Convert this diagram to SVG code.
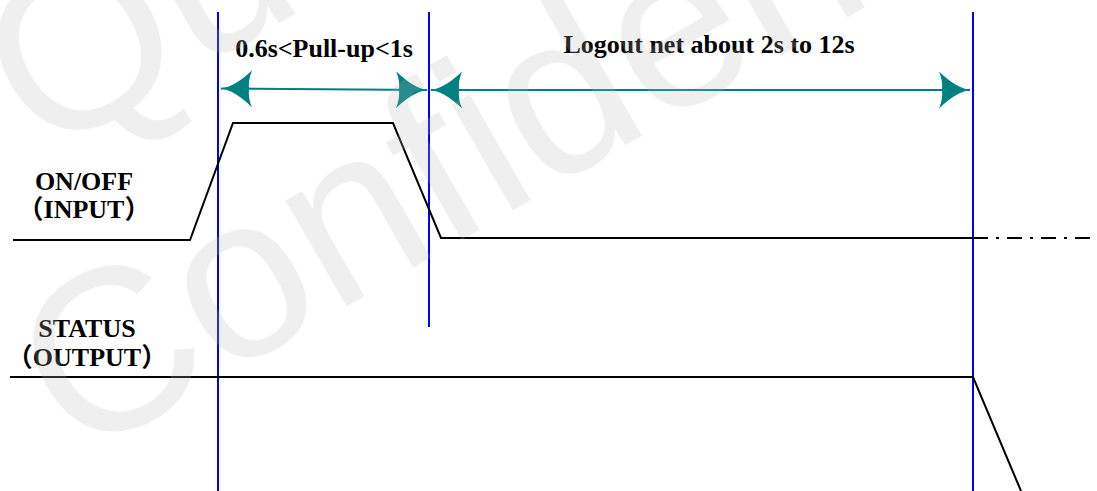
<svg xmlns="http://www.w3.org/2000/svg" width="1097" height="491" viewBox="0 0 1097 491">
  <style>
    .sig { fill: none; stroke: #000; stroke-width: 2; stroke-linejoin: miter; }
    .vline { stroke: #0000ff; stroke-width: 2; }
    .dim { stroke: #008080; stroke-width: 2.2; fill: none; }
    .lbl { font-family: "Liberation Serif", "Noto Sans CJK SC", serif; font-weight: bold; font-size: 26px; fill: #000; text-anchor: middle; }
    .wm { font-family: "Liberation Sans", Arial, sans-serif; font-size: 231px; fill: #b9b9b9; opacity: 0.22; }
  </style>
  <defs>
    <marker id="head" markerUnits="userSpaceOnUse" viewBox="-32 -20 33 40" markerWidth="33" markerHeight="40" refX="0" refY="0" orient="auto-start-reverse" overflow="visible">
      <path d="M0,0 Q-14,-2 -31,-18.5 Q-27,-9 -28,0 Q-27,9 -31,18.5 Q-14,2 0,0 Z" fill="#008080"/>
    </marker>
  </defs>
  <rect width="1097" height="491" fill="#fff"/>

  <g id="markers">
    <line class="vline" x1="218" y1="12" x2="218" y2="491"/>
    <line class="vline" x1="429" y1="12" x2="429" y2="327"/>
    <line class="vline" x1="973" y1="12" x2="973" y2="491"/>
  </g>

  <g id="onoff-signal">
    <polyline class="sig" points="13,240 190,240 233,123 393,123 441,238 973,238"/>
    <line class="sig" x1="973" y1="238" x2="1097" y2="238" stroke-dasharray="15 8 3 8"/>
  </g>

  <g id="status-signal">
    <polyline class="sig" points="10,377 973,377 1021,491"/>
  </g>

  <g id="connectors">
    <line class="dim" x1="221" y1="88.5" x2="427" y2="90" marker-start="url(#head)" marker-end="url(#head)"/>
    <line class="dim" x1="431" y1="90" x2="970" y2="90" marker-start="url(#head)" marker-end="url(#head)"/>
  </g>

  <g id="label-pullup">
    <text class="lbl" x="324" y="57">0.6s&lt;Pull-up&lt;1s</text>
  </g>
  <g id="label-logout">
    <text class="lbl" x="709" y="53">Logout net about 2s to 12s</text>
  </g>
  <g id="label-onoff">
    <text class="lbl" x="84" y="190">ON/OFF</text>
    <text class="lbl" x="84" y="218">（INPUT）</text>
  </g>
  <g id="label-status">
    <text class="lbl" x="87" y="337">STATUS</text>
    <text class="lbl" x="87" y="365.5">（OUTPUT）</text>
  </g>

  <g id="watermark">
    <text class="wm" transform="translate(42,160) rotate(-30)">Quectel</text>
    <text class="wm" transform="translate(77,462) rotate(-30)">Confidential</text>
  </g>
</svg>
